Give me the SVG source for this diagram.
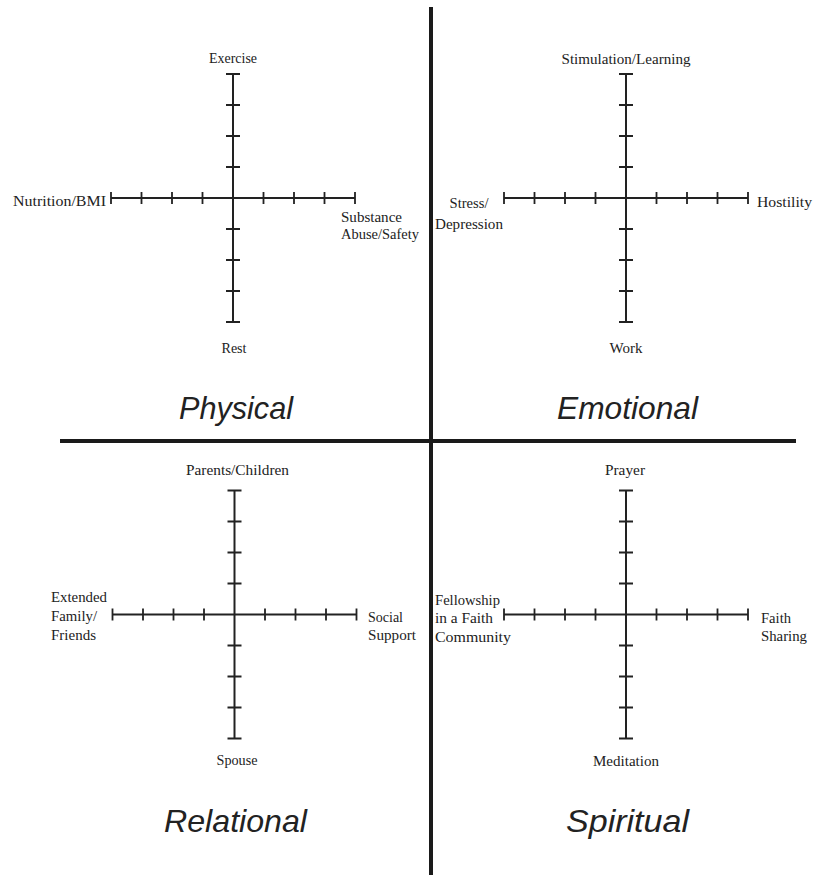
<svg xmlns="http://www.w3.org/2000/svg" xmlns:xlink="http://www.w3.org/1999/xlink" width="814" height="875" viewBox="0 0 814 875">
<style>
.ax{stroke:#222;stroke-width:2;fill:none}
.tk{stroke:#222;stroke-width:1.8;fill:none}
.div{stroke:#1a1a1a;stroke-width:4}
.lb{font-family:"Liberation Serif","Times New Roman",serif;font-size:15px;fill:#222}
.mid{text-anchor:middle}
.ttl{font-family:"Liberation Sans","DejaVu Sans",sans-serif;font-style:italic;font-size:32px;fill:#222}
</style>
<defs>
<g id="cross">
<line class="ax" x1="0" y1="-124" x2="0" y2="124"/>
<line class="ax" x1="-122" y1="0" x2="122" y2="0"/>
<path class="tk" d="M-7,-124H7M-7,-93H7M-7,-62H7M-7,-31H7M-7,31H7M-7,62H7M-7,93H7M-7,124H7"/>
<path class="tk" d="M-122,-6V6M-91.5,-6V6M-61,-6V6M-30.5,-6V6M30.5,-6V6M61,-6V6M91.5,-6V6M122,-6V6"/>
</g>
</defs>
<rect width="814" height="875" fill="#fff"/>
<g id="connectors">
<line class="div" x1="431" y1="7" x2="431" y2="875"/>
<line class="div" x1="60" y1="441" x2="796" y2="441"/>
</g>
<g id="physical">
<use xlink:href="#cross" href="#cross" transform="translate(233,198)"/>
<text class="lb mid" x="233" y="63" textLength="48" lengthAdjust="spacingAndGlyphs">Exercise</text>
<text class="lb" x="13" y="206" textLength="93" lengthAdjust="spacingAndGlyphs">Nutrition/BMI</text>
<text class="lb" x="341" y="222" textLength="61" lengthAdjust="spacingAndGlyphs">Substance</text>
<text class="lb" x="341" y="239" textLength="78" lengthAdjust="spacingAndGlyphs">Abuse/Safety</text>
<text class="lb mid" x="234" y="353" textLength="25" lengthAdjust="spacingAndGlyphs">Rest</text>
<text class="ttl" x="179" y="419" textLength="114" lengthAdjust="spacingAndGlyphs">Physical</text>
</g>
<g id="emotional">
<use xlink:href="#cross" href="#cross" transform="translate(626,198)"/>
<text class="lb mid" x="626" y="64" textLength="129" lengthAdjust="spacingAndGlyphs">Stimulation/Learning</text>
<text class="lb mid" x="469" y="208" textLength="39" lengthAdjust="spacingAndGlyphs">Stress/</text>
<text class="lb mid" x="469" y="229" textLength="68" lengthAdjust="spacingAndGlyphs">Depression</text>
<text class="lb" x="757" y="207" textLength="55" lengthAdjust="spacingAndGlyphs">Hostility</text>
<text class="lb mid" x="626" y="353" textLength="33" lengthAdjust="spacingAndGlyphs">Work</text>
<text class="ttl" x="557" y="419" textLength="141" lengthAdjust="spacingAndGlyphs">Emotional</text>
</g>
<g id="relational">
<use xlink:href="#cross" href="#cross" transform="translate(234.5,614.5)"/>
<text class="lb mid" x="237.5" y="475" textLength="103" lengthAdjust="spacingAndGlyphs">Parents/Children</text>
<text class="lb" x="51" y="602" textLength="56" lengthAdjust="spacingAndGlyphs">Extended</text>
<text class="lb" x="51" y="621" textLength="46" lengthAdjust="spacingAndGlyphs">Family/</text>
<text class="lb" x="51" y="640" textLength="45" lengthAdjust="spacingAndGlyphs">Friends</text>
<text class="lb" x="368" y="622" textLength="35" lengthAdjust="spacingAndGlyphs">Social</text>
<text class="lb" x="368" y="640" textLength="48" lengthAdjust="spacingAndGlyphs">Support</text>
<text class="lb mid" x="237" y="765" textLength="41" lengthAdjust="spacingAndGlyphs">Spouse</text>
<text class="ttl" x="164" y="832" textLength="143" lengthAdjust="spacingAndGlyphs">Relational</text>
</g>
<g id="spiritual">
<use xlink:href="#cross" href="#cross" transform="translate(626,614.5)"/>
<text class="lb mid" x="625" y="475" textLength="40" lengthAdjust="spacingAndGlyphs">Prayer</text>
<text class="lb" x="435" y="605" textLength="65" lengthAdjust="spacingAndGlyphs">Fellowship</text>
<text class="lb" x="435" y="623" textLength="58" lengthAdjust="spacingAndGlyphs">in a Faith</text>
<text class="lb" x="435" y="642" textLength="76" lengthAdjust="spacingAndGlyphs">Community</text>
<text class="lb" x="761" y="623" textLength="30" lengthAdjust="spacingAndGlyphs">Faith</text>
<text class="lb" x="761" y="641" textLength="46" lengthAdjust="spacingAndGlyphs">Sharing</text>
<text class="lb mid" x="626" y="766" textLength="66" lengthAdjust="spacingAndGlyphs">Meditation</text>
<text class="ttl" x="566" y="832" textLength="123" lengthAdjust="spacingAndGlyphs">Spiritual</text>
</g>
</svg>
